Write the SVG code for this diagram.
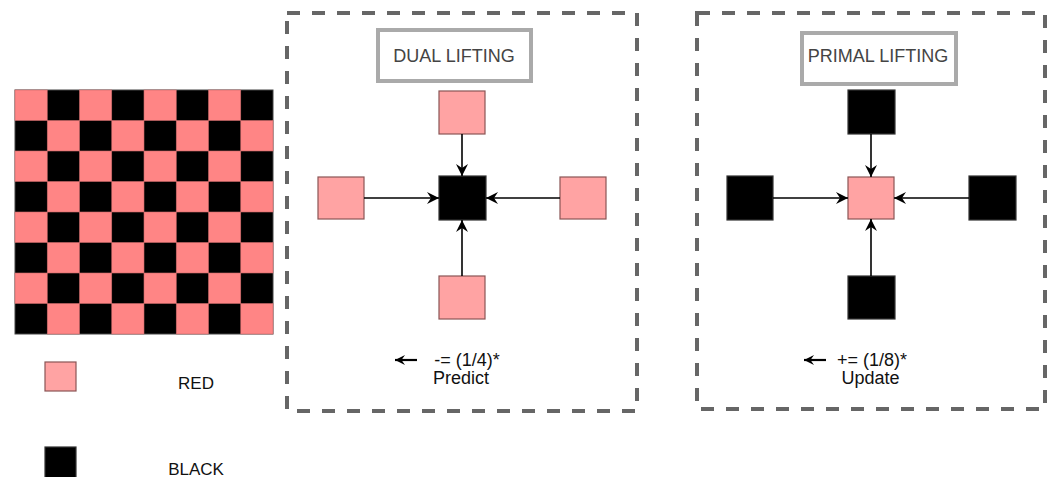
<svg xmlns="http://www.w3.org/2000/svg" width="1054" height="477" viewBox="0 0 1054 477">
  <style>
    .txt { font-family: "Liberation Sans", Arial, sans-serif; fill: #111; }
    .title { font-family: "Liberation Sans", Arial, sans-serif; font-size: 18px; fill: #444; text-anchor: middle; }
    .frame { fill: none; stroke: #666; stroke-width: 4; stroke-dasharray: 13 12; }
    .tbox { fill: #fff; stroke: #aaa; stroke-width: 4; }
    .pink { fill: #ffa3a3; stroke: #8a5555; stroke-width: 1.2; }
    .black { fill: #000; stroke: #333; stroke-width: 1.2; }
    .red { fill: #ff8585; stroke: #c86a6a; stroke-width: 0.6; }
    .edge { stroke: #000; stroke-width: 1.6; fill: none; marker-end: url(#arrow); }
    .hint { stroke: #000; stroke-width: 2.2; fill: none; marker-end: url(#arrow-small); }
  </style>
  <defs>
    <marker id="arrow" viewBox="0 0 12 12" refX="12" refY="6" markerWidth="12" markerHeight="12" markerUnits="userSpaceOnUse" orient="auto">
      <path d="M0,0 L12,6 L0,12 L4,6 z" fill="#000"/>
    </marker>
    <marker id="arrow-small" viewBox="0 0 10 10" refX="10" refY="5" markerWidth="10" markerHeight="10" markerUnits="userSpaceOnUse" orient="auto">
      <path d="M0,0 L10,5 L0,10 L3.5,5 z" fill="#000"/>
    </marker>
    <rect id="cell" width="32.25" height="30.5" class="red"/>
  </defs>

  <rect width="1054" height="477" fill="#fff"/>

  <!-- 8x8 red/black board -->
  <g id="board">
    <rect x="15" y="90" width="258" height="244" fill="#000" stroke="#444" stroke-width="1"/>
    <use href="#cell" x="15" y="90"/><use href="#cell" x="79.5" y="90"/><use href="#cell" x="144" y="90"/><use href="#cell" x="208.5" y="90"/>
    <use href="#cell" x="47.25" y="120.5"/><use href="#cell" x="111.75" y="120.5"/><use href="#cell" x="176.25" y="120.5"/><use href="#cell" x="240.75" y="120.5"/>
    <use href="#cell" x="15" y="151"/><use href="#cell" x="79.5" y="151"/><use href="#cell" x="144" y="151"/><use href="#cell" x="208.5" y="151"/>
    <use href="#cell" x="47.25" y="181.5"/><use href="#cell" x="111.75" y="181.5"/><use href="#cell" x="176.25" y="181.5"/><use href="#cell" x="240.75" y="181.5"/>
    <use href="#cell" x="15" y="212"/><use href="#cell" x="79.5" y="212"/><use href="#cell" x="144" y="212"/><use href="#cell" x="208.5" y="212"/>
    <use href="#cell" x="47.25" y="242.5"/><use href="#cell" x="111.75" y="242.5"/><use href="#cell" x="176.25" y="242.5"/><use href="#cell" x="240.75" y="242.5"/>
    <use href="#cell" x="15" y="273"/><use href="#cell" x="79.5" y="273"/><use href="#cell" x="144" y="273"/><use href="#cell" x="208.5" y="273"/>
    <use href="#cell" x="47.25" y="303.5"/><use href="#cell" x="111.75" y="303.5"/><use href="#cell" x="176.25" y="303.5"/><use href="#cell" x="240.75" y="303.5"/>
  </g>

  <!-- legend -->
  <g id="legend-red">
    <rect x="45" y="362" width="31" height="29" class="pink"/>
    <text x="196" y="389" class="txt" font-size="17" text-anchor="middle">RED</text>
  </g>
  <g id="legend-black">
    <rect x="45" y="447" width="31" height="32" class="black"/>
    <text x="196" y="475" class="txt" font-size="17" text-anchor="middle">BLACK</text>
  </g>

  <!-- dual lifting panel -->
  <g id="dual-panel">
    <rect x="287" y="13" width="350" height="398" class="frame"/>
    <rect x="378" y="30" width="153" height="51" class="tbox"/>
    <text x="454" y="62" class="title">DUAL LIFTING</text>
    <line x1="417" y1="360" x2="395" y2="360" class="hint"/>
    <text x="467" y="366" class="txt" font-size="18" text-anchor="middle">-= (1/4)*</text>
    <text x="461" y="384" class="txt" font-size="18" text-anchor="middle">Predict</text>
  </g>
  <g id="dual-top"><rect x="439" y="91" width="46" height="43" class="pink"/></g>
  <g id="dual-left"><rect x="318" y="177" width="46" height="42" class="pink"/></g>
  <g id="dual-right"><rect x="560" y="177" width="46" height="42" class="pink"/></g>
  <g id="dual-bottom"><rect x="439" y="276" width="46" height="43" class="pink"/></g>
  <g id="dual-center"><rect x="439" y="176" width="47" height="44" class="black"/></g>

  <!-- primal lifting panel -->
  <g id="primal-panel">
    <rect x="697" y="13" width="348" height="396" class="frame"/>
    <rect x="802" y="33" width="154" height="51" class="tbox"/>
    <text x="878" y="62" class="title">PRIMAL LIFTING</text>
    <line x1="826" y1="360" x2="804" y2="360" class="hint"/>
    <text x="872" y="366" class="txt" font-size="18" text-anchor="middle">+= (1/8)*</text>
    <text x="870.5" y="384" class="txt" font-size="18" text-anchor="middle">Update</text>
  </g>
  <g id="primal-top"><rect x="848" y="90" width="47" height="44" class="black"/></g>
  <g id="primal-left"><rect x="727" y="176" width="46" height="44" class="black"/></g>
  <g id="primal-right"><rect x="969" y="176" width="47" height="44" class="black"/></g>
  <g id="primal-bottom"><rect x="848" y="276" width="47" height="43" class="black"/></g>
  <g id="primal-center"><rect x="848" y="177" width="46" height="42" class="pink"/></g>

  <!-- connectors -->
  <g id="connectors">
    <line x1="462" y1="134" x2="462" y2="176" class="edge"/>
    <line x1="364" y1="198" x2="439" y2="198" class="edge"/>
    <line x1="560" y1="198" x2="486" y2="198" class="edge"/>
    <line x1="462" y1="276" x2="462" y2="220" class="edge"/>
    <line x1="871" y1="134" x2="871" y2="177" class="edge"/>
    <line x1="773" y1="198" x2="848" y2="198" class="edge"/>
    <line x1="969" y1="198" x2="894" y2="198" class="edge"/>
    <line x1="871" y1="276" x2="871" y2="219" class="edge"/>
  </g>
</svg>
